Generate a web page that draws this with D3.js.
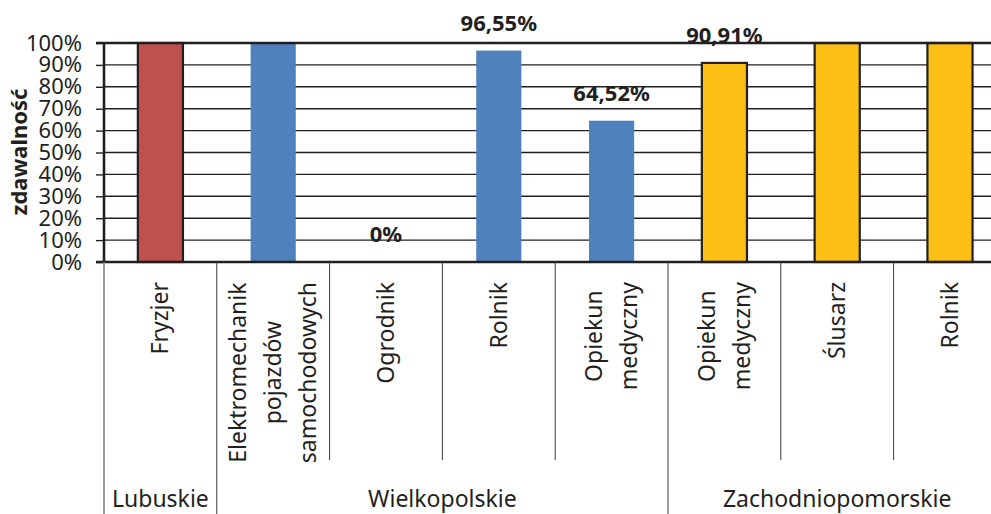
<!DOCTYPE html>
<html>
<head>
<meta charset="utf-8">
<script src="https://cdn.jsdelivr.net/npm/d3@7"></script>
<style>
  body { margin: 0; background: #fff; }
  text { font-family: "Noto Sans", "Open Sans", sans-serif; fill: #231f20; }
</style>
</head>
<body>
<div id="chart"></div>
<script>
// Data
var groups = ["Lubuskie", "Wielkopolskie", "Zachodniopomorskie"];
var groupColors = ["#c0504d", "#4f81bd", "#fbbf15"];
var groupStrokes = ["#231f20", "none", "#231f20"];
var categories = [
    ["Fryzjer"],
    ["Elektromechanik", "pojazdów", "samochodowych"],
    ["Ogrodnik"],
    ["Rolnik"],
    ["Opiekun", "medyczny"],
    ["Opiekun", "medyczny"],
    ["Ślusarz"],
    ["Rolnik"]
];
var categoryGroup = [0, 1, 1, 1, 1, 2, 2, 2];
var values = [100, 100, 0, 96.55, 64.52, 90.91, 100, 100];
var valueLabels = ["", "", "0%", "96,55%", "64,52%", "90,91%", "", ""];
var yTicks = [0, 10, 20, 30, 40, 50, 60, 70, 80, 90, 100];

var width = 991, height = 514;
var margin = {top: 43, left: 104, bottom: 252};
var plotBottom = height - margin.bottom;   // 262
var bandWidth = 112.8;

var svg = d3.select("#chart")
    .append("svg")
    .attr("width", width)
    .attr("height", height);

var x = d3.scaleBand()
    .domain(d3.range(categories.length))
    .range([margin.left, margin.left + bandWidth * categories.length])
    .paddingInner(0);

var y = d3.scaleLinear()
    .domain([0, 100])
    .range([plotBottom, margin.top]);

// gridlines
svg.append("g").selectAll("line")
    .data(yTicks.slice(1, -1))
    .join("line")
    .attr("x1", margin.left)
    .attr("x2", width)
    .attr("y1", function(d) { return y(d); })
    .attr("y2", function(d) { return y(d); })
    .attr("stroke", "#231f20")
    .attr("stroke-width", 1.4);

// y axis
var yAxis = d3.axisLeft(y)
    .tickValues(yTicks)
    .tickFormat(function(d) { return d + "%"; })
    .tickSize(8)
    .tickPadding(14);

var gy = svg.append("g")
    .attr("transform", "translate(" + margin.left + ",0)")
    .call(yAxis);
gy.select(".domain").remove();
gy.selectAll(".tick line").attr("stroke", "#231f20").attr("stroke-width", 1.4);
gy.selectAll(".tick text")
    .attr("font-size", 22)
    .attr("fill", "#231f20")
    .style("font-family", "'Noto Sans', sans-serif");

// y title
svg.append("text")
    .attr("transform", "translate(27," + 152 + ") rotate(-90)")
    .attr("text-anchor", "middle")
    .attr("font-size", 22)
    .attr("font-weight", "bold")
    .text("zdawalność");

// bars
svg.append("g").selectAll("rect")
    .data(values)
    .join("rect")
    .attr("x", function(d, i) { return x(i) + bandWidth * 0.3; })
    .attr("width", bandWidth * 0.4)
    .attr("y", function(d) { return y(d); })
    .attr("height", function(d) { return y(0) - y(d); })
    .attr("fill", function(d, i) { return groupColors[categoryGroup[i]]; })
    .attr("stroke", function(d, i) { return groupStrokes[categoryGroup[i]]; })
    .attr("stroke-width", 2.2);

// frame: top, left, bottom
svg.append("line")
    .attr("x1", margin.left - 8).attr("x2", width)
    .attr("y1", y(100)).attr("y2", y(100))
    .attr("stroke", "#231f20").attr("stroke-width", 2.6);
svg.append("line")
    .attr("x1", margin.left - 8).attr("x2", width)
    .attr("y1", y(0)).attr("y2", y(0))
    .attr("stroke", "#231f20").attr("stroke-width", 2.6);
svg.append("line")
    .attr("x1", margin.left).attr("x2", margin.left)
    .attr("y1", y(100) - 1).attr("y2", y(0))
    .attr("stroke", "#231f20").attr("stroke-width", 2.6);

// value labels
svg.append("g").selectAll("text")
    .data(values)
    .join("text")
    .attr("x", function(d, i) { return x(i) + bandWidth / 2; })
    .attr("y", function(d) { return y(d) - 20; })
    .attr("text-anchor", "middle")
    .attr("font-size", 22)
    .attr("font-weight", "bold")
    .text(function(d, i) { return valueLabels[i]; });

// separators below axis
svg.append("g").selectAll("line")
    .data(d3.range(categories.length))
    .join("line")
    .attr("x1", function(i) { return x(i); })
    .attr("x2", function(i) { return x(i); })
    .attr("y1", plotBottom)
    .attr("y2", function(i) {
        return (i === 0 || categoryGroup[i] !== categoryGroup[i - 1]) ? height : 460;
    })
    .attr("stroke", function(i) { return i === 0 ? "#808080" : "#3a3a3a"; })
    .attr("stroke-width", function(i) { return i === 0 ? 1.6 : 1; });

// category labels (rotated, lines centred on longest line)
var catTop = 282;
var lineGap = 35;
var catG = svg.append("g").selectAll("g")
    .data(categories)
    .join("g");

catG.each(function(lines, i) {
    var g = d3.select(this);
    var cx = x(i) + bandWidth / 2;
    var texts = g.selectAll("text")
        .data(lines)
        .join("text")
        .attr("font-size", 23)
        .attr("text-anchor", "middle")
        .text(function(d) { return d; });
    var maxLen = d3.max(texts.nodes(), function(n) { return n.getComputedTextLength(); });
    var cy = catTop + maxLen / 2;
    texts.attr("transform", function(d, k) {
        var bx = cx + 8 + (k - (lines.length - 1) / 2) * lineGap;
        return "translate(" + bx + "," + cy + ") rotate(-90)";
    });
});

// group labels
svg.append("g").selectAll("text")
    .data(groups)
    .join("text")
    .attr("x", function(d, gi) {
        var idx = d3.range(categories.length).filter(function(i) { return categoryGroup[i] === gi; });
        return (x(idx[0]) + x(idx[idx.length - 1]) + bandWidth) / 2;
    })
    .attr("y", 507)
    .attr("text-anchor", "middle")
    .attr("font-size", 23)
    .text(function(d) { return d; });
</script>
</body>
</html>
